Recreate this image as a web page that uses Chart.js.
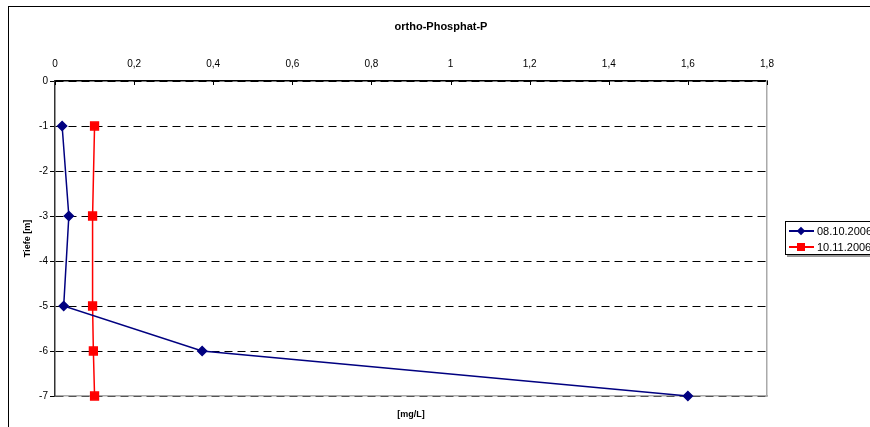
<!DOCTYPE html>
<html>
<head>
<meta charset="utf-8">
<script src="https://cdn.jsdelivr.net/npm/chart.js@4/dist/chart.umd.min.js"></script>
<style>
  html, body { margin: 0; padding: 0; background: #fff; }
  body { width: 870px; height: 427px; overflow: hidden; position: relative; }
  #frame { position: absolute; left: 8px; top: 6px; width: 900px; height: 500px; border: 1px solid #000; }
  #c { position: absolute; left: 0; top: 0; }
  .legend { position: absolute; left: 785px; top: 221px; width: 100px; height: 32px; border: 1px solid #000;
    background: #fff; box-shadow: 2px 2px 0 #999; font: 11px Arial, "Liberation Sans", sans-serif; color: #000; }
  .row { position: absolute; left: 3px; height: 12px; display: flex; align-items: center; white-space: nowrap; }
  .sym { position: relative; width: 25px; height: 12px; margin-right: 3px; }
  .sym .ln { position: absolute; left: 0; right: 0; top: 5px; height: 2px; }
  .sym .mk { position: absolute; }
</style>
</head>
<body>
<div id="frame"></div>
<canvas id="c" width="870" height="427"></canvas>
<div class="legend">
  <div class="row" style="top:3px">
    <span class="sym"><span class="ln" style="background:#000080"></span><span class="mk" style="left:9px;top:3px;width:6px;height:6px;background:#000080;transform:rotate(45deg)"></span></span>
    <span id="lab1"></span>
  </div>
  <div class="row" style="top:19px">
    <span class="sym"><span class="ln" style="background:#ff0000"></span><span class="mk" style="left:8px;top:2px;width:8px;height:8px;background:#ff0000"></span></span>
    <span id="lab2"></span>
  </div>
</div>
<script>
  // Tiefe (m) und Messwerte (mg/L)
  const depths = [-1, -3, -5, -6, -7];
  const seriesNames = ["08.10.2006", "10.11.2006"];
  const values0810 = [0.018, 0.035, 0.022, 0.372, 1.6];
  const values1011 = [0.1, 0.095, 0.095, 0.097, 0.1];

  const FONT = 'Arial, "Liberation Sans", sans-serif';

  document.getElementById("lab1").textContent = seriesNames[0];
  document.getElementById("lab2").textContent = seriesNames[1];

  const toPoints = vals => vals.map((v, i) => ({ x: v, y: depths[i] }));

  // kleine Striche nach innen an der oberen Achse
  const innerTicks = {
    id: "innerTicks",
    afterDraw(chart) {
      const sx = chart.scales.x;
      const ctx = chart.ctx;
      ctx.save();
      ctx.strokeStyle = "#000";
      ctx.lineWidth = 1;
      sx.ticks.forEach(t => {
        const px = Math.round(sx.getPixelForValue(t.value)) + 0.5;
        ctx.beginPath();
        ctx.moveTo(px, chart.chartArea.top);
        ctx.lineTo(px, chart.chartArea.top + 4);
        ctx.stroke();
      });
      ctx.restore();
    }
  };

  new Chart(document.getElementById("c"), {
    type: "scatter",
    data: {
      datasets: [
        {
          label: seriesNames[0],
          data: toPoints(values0810),
          showLine: true,
          clip: false,
          borderColor: "#000080",
          backgroundColor: "#000080",
          borderWidth: 1.5,
          pointStyle: "rectRot",
          pointRadius: 4.5,
          pointHoverRadius: 4.5
        },
        {
          label: seriesNames[1],
          data: toPoints(values1011),
          showLine: true,
          clip: false,
          borderColor: "#ff0000",
          backgroundColor: "#ff0000",
          borderWidth: 1.5,
          pointStyle: "rect",
          pointRadius: 5.5,
          pointHoverRadius: 5.5
        }
      ]
    },
    options: {
      responsive: false,
      animation: false,
      devicePixelRatio: 1,
      layout: { padding: { left: 12, right: 0, top: 0, bottom: 0 } },
      plugins: {
        legend: { display: false },
        tooltip: { enabled: false },
        title: {
          display: true,
          text: "ortho-Phosphat-P",
          color: "#000",
          font: { family: FONT, size: 11, weight: "bold" },
          padding: { top: 20, bottom: 0 }
        }
      },
      scales: {
        x: {
          type: "linear",
          position: "top",
          min: 0,
          max: 1.8,
          afterFit: s => { s.height = 47.8; },
          grid: { display: false },
          border: { display: true, color: "#000", width: 1.5 },
          ticks: {
            stepSize: 0.2,
            padding: 3,
            color: "#000",
            font: { family: FONT, size: 10 },
            callback: v => String(Math.round(v * 10) / 10).replace(".", ",")
          }
        },
        x2: {
          type: "linear",
          position: "bottom",
          afterFit: s => { s.height = 31; },
          grid: { display: false },
          border: { display: true, color: "#aaa", width: 1.5 },
          ticks: { display: false },
          title: {
            display: true,
            text: "[mg/L]",
            color: "#000",
            font: { family: FONT, size: 9, weight: "bold" },
            padding: { top: 0, bottom: 7 }
          }
        },
        y: {
          type: "linear",
          min: -7,
          max: 0,
          afterFit: s => { s.width = 43; },
          grid: { color: "#000", lineWidth: 1, tickLength: 5, tickColor: "#000", tickWidth: 1 },
          border: { display: true, color: "#333", width: 1.5, dash: [8, 5] },
          ticks: {
            stepSize: 1,
            padding: 2,
            color: "#000",
            font: { family: FONT, size: 10 }
          },
          title: {
            display: true,
            text: "Tiefe [m]",
            color: "#000",
            font: { family: FONT, size: 9, weight: "bold" },
            padding: { top: 10, bottom: 0 }
          }
        },
        y2: {
          type: "linear",
          position: "right",
          afterFit: s => { s.width = 103; },
          grid: { display: false },
          border: { display: true, color: "#aaa", width: 1.5 },
          ticks: { display: false }
        }
      }
    },
    plugins: [innerTicks]
  });
</script>
</body>
</html>
